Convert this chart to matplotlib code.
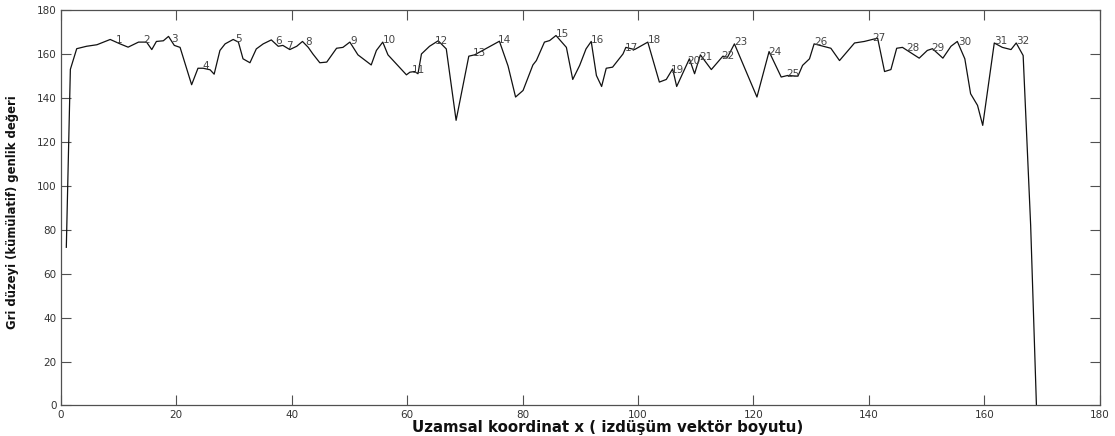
import matplotlib
matplotlib.use("Agg")
import matplotlib.pyplot as plt
import numpy as np

# projection profile: vertex positions along x and cumulative gray level
pos = [1.0, 1.7, 2.8, 4.5, 6.3, 8.6, 10.3, 11.7, 13.5, 14.9, 15.8, 16.6, 17.8, 18.7,
       19.7, 20.7, 22.7, 23.8, 24.7, 25.9, 26.6, 27.6, 28.5, 29.9, 30.8, 31.6, 32.8,
       33.9, 35.1, 36.5, 37.7, 38.5, 39.7, 40.9, 41.9, 42.9, 43.7, 44.9, 46.1, 47.8,
       48.9, 50.1, 51.5, 53.8, 54.7, 55.8, 56.7, 59.9, 60.5, 61.3, 61.9, 62.5, 63.9,
       65.4, 66.8, 68.5, 70.7, 71.7, 76.0, 77.5, 78.8, 80.1, 81.8, 82.4, 83.8, 84.7,
       85.8, 87.6, 88.7, 89.9, 91.0, 91.9, 92.8, 93.7, 94.5, 95.6, 97.4, 97.9, 99.4,
       101.7, 103.7, 104.9, 106.0, 106.7, 108.9, 109.8, 110.8, 112.7, 114.7, 115.5,
       116.7, 120.6, 122.7, 124.8, 125.9, 127.7, 128.5, 129.7, 130.5, 133.4, 134.9,
       137.5, 139.2, 141.5, 142.7, 143.8, 144.8, 145.8, 148.7, 150.1, 151.0, 152.8,
       154.2, 155.3, 156.6, 157.6, 158.8, 159.7, 161.7, 163.1, 164.6, 165.5, 166.7,
       168.0, 169.0]
gray = [72, 153, 162.4, 163.5, 164.2, 166.6, 164.6, 163.1, 165.4, 165.4, 162, 165.7,
        166, 168, 163.9, 163, 146, 153.5, 153.5, 152.8, 150.8, 161.6, 164.6, 166.6,
        165.4, 157.8, 156, 162.3, 164.6, 166.4, 163.5, 163.9, 162, 163.5, 165.7, 163,
        160, 156, 156.3, 162.6, 163, 165.4, 159.6, 155, 161.6, 165.4, 159.6, 150.5,
        151.7, 152, 151, 160, 163.5, 166, 162.3, 129.8, 159, 159.6, 165.8, 154.5,
        140.4, 143.4, 155, 157, 165.4, 166.1, 168.4, 163, 148.4, 154.8, 162.3, 165.7,
        150.2, 145.2, 153.5, 154, 160, 163, 162, 165.4, 147.2, 148.4, 153.2, 145.2,
        157.8, 151, 159.6, 152.9, 159, 158.5, 164.6, 140.4, 161.1, 149.5, 150.2,
        149.9, 154.8, 157.8, 164.6, 162.6, 157, 165, 165.7, 167.2, 152, 152.9, 162.6,
        163, 158.1, 161.6, 162.4, 158.1, 163.5, 165.7, 157.8, 141.9, 136.6, 127.5,
        165, 163, 162, 165, 159.3, 82, 0]

# numbered marks along the profile
mark_x = [9.6, 14.3, 19.2, 24.5, 30.2, 37.1, 39.1, 42.3, 50.2, 55.8, 60.8, 64.8,
          71.4, 75.7, 85.8, 91.9, 97.7, 101.7, 105.7, 108.6, 110.6, 114.4, 116.7,
          122.6, 125.6, 130.5, 140.6, 146.4, 150.7, 155.5, 161.7, 165.5]
mark_text = [str(i) for i in range(1, len(mark_x) + 1)]

fig = plt.figure(figsize=(11.15, 4.36), dpi=100)
ax = fig.add_axes([0.0543, 0.070, 0.9322, 0.907])

ax.plot(pos, gray, color="#111111", linewidth=0.9)

mark_y = np.interp(mark_x, pos, gray) + 0.8
for mx, my, t in zip(mark_x, mark_y, mark_text):
    ax.text(mx, my, t, ha="left", va="center", fontsize=7.5, color="#444444")

ax.set_xlim(0, 180)
ax.set_ylim(0, 180)
ax.set_xticks(np.arange(0, 181, 20))
ax.set_yticks(np.arange(0, 181, 20))
ax.tick_params(direction="in", length=7, width=0.8, color="#505050",
               labelsize=7.5, labelcolor="#333333", top=True, right=True, pad=3)
for sp in ax.spines.values():
    sp.set_color("#505050")
    sp.set_linewidth(0.9)

ax.set_xlabel("Uzamsal koordinat x ( izdüşüm vektör boyutu)", fontsize=10.8,
              fontweight="bold", color="#111111", labelpad=1)
ax.xaxis.set_label_coords(0.526, -0.037)
ax.set_ylabel("Gri düzeyi (kümülatif) genlik değeri", fontsize=8.4,
              fontweight="bold", color="#111111")
ax.yaxis.set_label_coords(-0.040, 0.49)

fig.savefig("out.png", dpi=100, facecolor="white")
